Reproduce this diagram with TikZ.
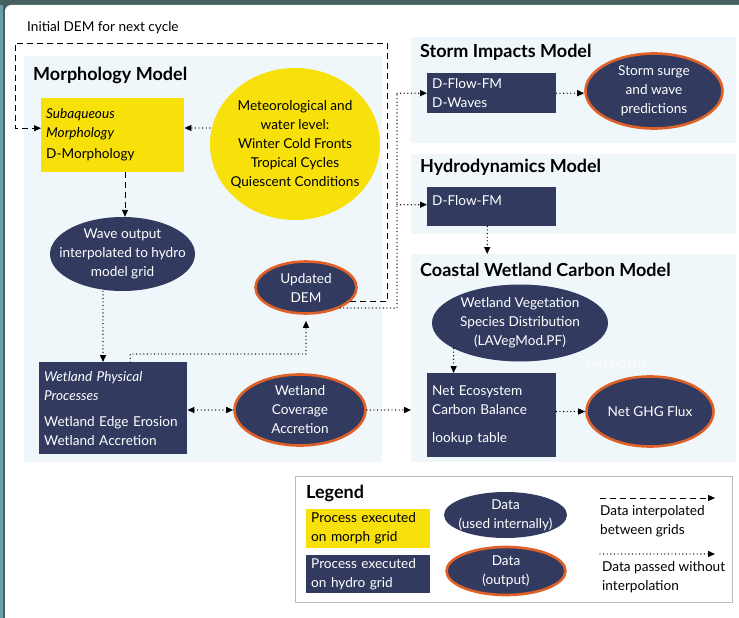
\documentclass[tikz,border=0pt]{standalone}
\usepackage{fontspec}
\setmainfont{Lato}
\usetikzlibrary{arrows.meta,shapes.geometric}
\definecolor{navy}{HTML}{323B5F}
\definecolor{myyel}{HTML}{F8E10B}
\definecolor{myorg}{HTML}{DF6128}
\definecolor{panel}{HTML}{F0F7FA}
\definecolor{frametop}{HTML}{45605F}
\definecolor{frameleft}{HTML}{6A9EAE}
\definecolor{legbord}{HTML}{BBBBBB}
\tikzset{
 body/.style={font=\fontsize{13.6}{19}\selectfont},
 ttl/.style={font=\bfseries\fontsize{18}{20}\selectfont, anchor=west, inner sep=0pt},
 panelbox/.style={fill=panel, anchor=north west, inner sep=0pt},
 ybox/.style={body, fill=myyel, anchor=north west, align=left, inner xsep=5pt, inner ysep=0pt},
 nbox/.style={ybox, fill=navy, text=white},
 yell/.style={body, ellipse, fill=myyel, align=center, inner sep=-50pt},
 nell/.style={yell, fill=navy, text=white},
 oell/.style={nell, draw=myorg, line width=2.6pt},
 dashline/.style={draw, line width=0.9pt, dash pattern=on 6pt off 4pt},
 dotline/.style={draw, line width=1.4pt, line cap=round, dash pattern=on 0pt off 3.6pt},
 arr/.style={-{Triangle[length=7pt,width=6pt]}},
 arrs/.style={{Triangle[length=7pt,width=6pt]}-{Triangle[length=7pt,width=6pt]}},
}
\begin{document}
\begin{tikzpicture}[x=1pt,y=-1pt]
\useasboundingbox (0,0) rectangle (739,618);
% frame
\fill[frametop] (0,0) rectangle (739,618);
\fill[frameleft] (0,5) rectangle (3,618);
\fill[white, rounded corners=6pt] (5,5) rectangle (770,650);
% panels
\node[panelbox, minimum width=358, minimum height=406] (pmorph) at (24,56) {};
\node[panelbox, minimum width=325, minimum height=106] (pstorm) at (411,37) {};
\node[panelbox, minimum width=325, minimum height=80] (phyd) at (411,154) {};
\node[panelbox, minimum width=325, minimum height=208] (pcoast) at (411,254) {};
% titles
\node[body, anchor=west, inner sep=0pt] (tinit) at (27,28) {Initial DEM for next cycle};
\node[ttl] (tmorph) at (33,75) {Morphology Model};
\node[ttl] (tstorm) at (420,52) {Storm Impacts Model};
\node[ttl] (thyd) at (420,167) {Hydrodynamics Model};
\node[ttl] (tcoast) at (420,270) {Coastal Wetland Carbon Model};
% morphology nodes
\node[ybox, text width=133, minimum height=74] (sub) at (41,98)
  {\textit{Subaqueous}\\\textit{Morphology}\\[2pt]D-Morphology};
\node[yell, minimum width=170, minimum height=152] (met) at (295,144)
  {Meteorological and\\water level:\\Winter Cold Fronts\\Tropical Cycles\\Quiescent Conditions};
\node[nell, minimum width=145, minimum height=74] (wave) at (122.5,254)
  {Wave output\\interpolated to hydro\\model grid};
\node[oell, minimum width=101, minimum height=52] (dem) at (306,287.5) {Updated\\DEM};
\node[nbox, text width=138, minimum height=92] (wpp) at (39,362)
  {\textit{Wetland Physical}\\\textit{Processes}\\[7pt]Wetland Edge Erosion\\Wetland Accretion};
\node[oell, minimum width=131, minimum height=71] (cov) at (300,410)
  {Wetland\\Coverage\\Accretion};
% storm / hydro nodes
\node[nbox, text width=119, minimum height=40] (dfw) at (427,73) {D-Flow-FM\\D-Waves};
\node[oell, minimum width=137, minimum height=75] (storm) at (654,91)
  {Storm surge\\and wave\\predictions};
\node[nbox, text width=119, minimum height=39, text depth=13pt] (hyd) at (427,187) {D-Flow-FM};
% coastal nodes
\node[nell, minimum width=176, minimum height=77] (veg) at (520,323)
  {Wetland Vegetation\\Species Distribution\\(LAVegMod.PF)};
\node[nbox, text width=119, minimum height=84] (eco) at (427,373)
  {Net Ecosystem\\Carbon Balance\\[9pt]lookup table};
\node[oell, minimum width=127, minimum height=70] (ghg) at (650,411.5) {Net GHG Flux};
\node[font=\fontsize{9.5}{11}\selectfont, text=white, inner sep=0pt] (ghgfaint) at (616,364) {Net GHG Flux};
% legend
\node[draw=legbord, line width=1pt, fill=white, anchor=north west, minimum width=437, minimum height=126, inner sep=0pt] (legbox) at (295,476) {};
\node[ttl] (tleg) at (306,493) {Legend};
\node[ybox, text width=114, minimum height=39] (ly) at (306,509) {Process executed\\on morph grid};
\node[nbox, text width=114, minimum height=38] (ln) at (306,555) {Process executed\\on hydro grid};
\node[nell, minimum width=123, minimum height=46] (ld1) at (505.5,515) {Data\\(used internally)};
\node[oell, minimum width=119, minimum height=48] (ld2) at (506,571) {Data\\(output)};
\coordinate (la1) at (600,498);
\coordinate (la2) at (715,498);
\coordinate (lb1) at (600,554);
\coordinate (lb2) at (715,554);
\draw[dashline, arr] (la1) -- (la2);
\draw[dotline, arr] (lb1) -- (lb2);
\node[body, anchor=north west, align=left, inner sep=0pt] (lt1) at (600,505) {Data interpolated\\between grids};
\node[body, anchor=north west, align=left, inner sep=0pt] (lt2) at (602,561) {Data passed without\\interpolation};
% connectors
\coordinate (ltr) at (387,43);
\coordinate (ltl) at (15,43);
\draw[dashline, arr] (dem.-18) -| (ltr) -- (ltl) |- ([yshift=7pt]sub.west);
\draw[dotline] (dem.-31) -| ([xshift=-30pt]dfw.west);
\draw[dotline, arr] ([xshift=-30pt]dfw.west) -- (dfw.west);
\draw[dotline, arr] ([xshift=-30pt,yshift=2pt]hyd.west) -- ([yshift=2pt]hyd.west);
\draw[dotline, arr] ([yshift=16pt]met.west) -- ([yshift=16pt]met.west -| sub.east);
\draw[dashline, arr] ([xshift=2.5pt]wave.north |- sub.south) -- ([xshift=2.5pt]wave.north);
\draw[dotline, arr] ([xshift=-19.5pt]wave.south) -- ([xshift=-19.5pt]wave.south |- wpp.north);
\draw[dotline, arr] ([xshift=17pt]wpp.north) -- ++(0,-8) -| ([yshift=-6pt]dem.south);
\draw[dotline, arrs] (cov.west -| wpp.east) -- (cov.west);
\draw[dotline, arr] (cov.east) -- (cov.east -| pcoast.west);
\draw[dotline, arr] (dfw.east) -- (dfw.east -| storm.west);
\draw[dotline, arr] ([xshift=-4.5pt]hyd.south) -- ([xshift=-4.5pt]hyd.south |- pcoast.north);
\draw[dotline, arr] (veg.201.8) -- (veg.201.8 |- eco.north);
\draw[dotline, arr] (ghg.west -| eco.east) -- (ghg.west);
\end{tikzpicture}
\end{document}
